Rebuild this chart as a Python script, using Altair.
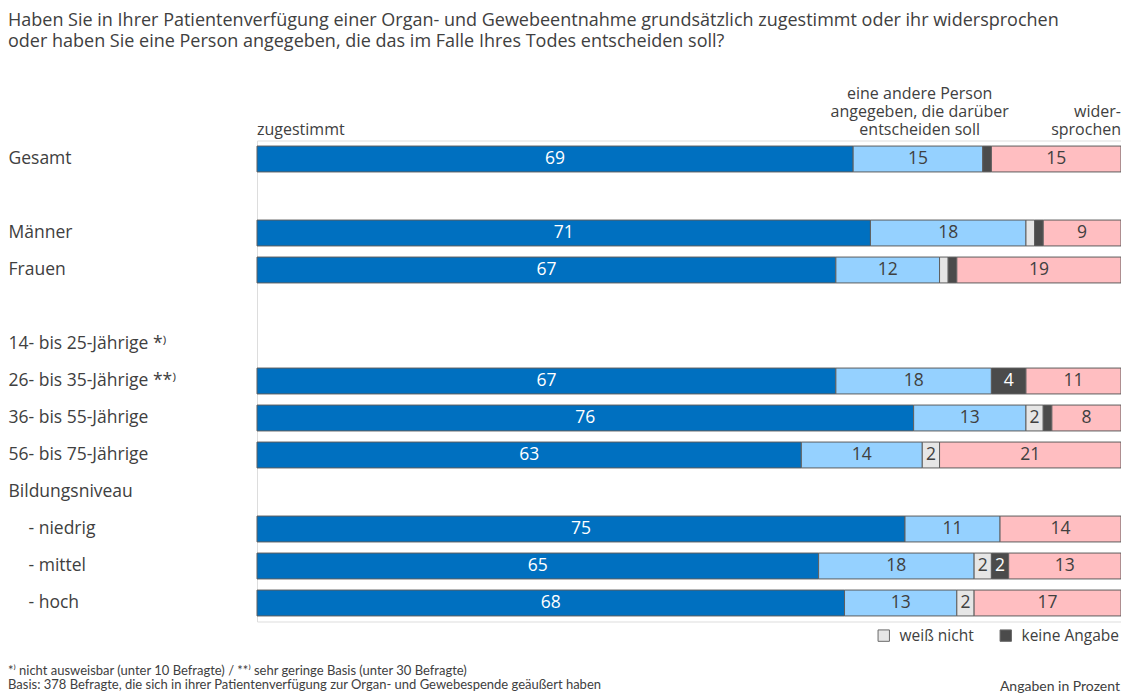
import altair as alt
import pandas as pd

# ---------------- data ----------------
categories = ["Gesamt", "_leer1", "Männer", "Frauen", "_leer2",
              "14- bis 25-Jährige *⁾", "26- bis 35-Jährige **⁾",
              "36- bis 55-Jährige", "56- bis 75-Jährige", "Bildungsniveau",
              "- niedrig", "- mittel", "- hoch"]
series = ["zugestimmt", "eine andere Person angegeben", "weiß nicht",
          "keine Angabe", "widersprochen"]
zugestimmt = [69, None, 71, 67, None, None, 67, 76, 63, None, 75, 65, 68]
andere = [15, None, 18, 12, None, None, 18, 13, 14, None, 11, 18, 13]
weiss_nicht = [0, None, 1, 1, None, None, 0, 2, 2, None, 0, 2, 2]
keine_angabe = [1, None, 1, 1, None, None, 4, 1, 0, None, 0, 2, 0]
widersprochen = [15, None, 9, 19, None, None, 11, 8, 21, None, 14, 13, 17]
colors = ["#0070C0", "#95D1FF", "#E6E6E6", "#4B4B4B", "#FFBEC1"]

title_lines = ["Haben Sie in Ihrer Patientenverfügung einer Organ- und Gewebeentnahme grundsätzlich zugestimmt oder ihr widersprochen",
               "oder haben Sie eine Person angegeben, die das im Falle Ihres Todes entscheiden soll?"]
footnotes = ["*⁾ nicht ausweisbar (unter 10 Befragte) / **⁾ sehr geringe Basis (unter 30 Befragte)",
             "Basis: 378 Befragte, die sich in ihrer Patientenverfügung zur Organ- und Gewebespende geäußert haben"]
unit_note = "Angaben in Prozent"
header_texts = [["zugestimmt"], ["eine andere Person", "angegeben, die darüber", "entscheiden soll"],
                ["wider-", "sprochen"]]
header_pos = [0, 76.7, 100]
header_align = ["left", "center", "right"]

# ------------- table -------------
rows = []
for i, cat in enumerate(categories):
    for k, vals in enumerate([zugestimmt, andere, weiss_nicht, keine_angabe, widersprochen]):
        v = vals[i]
        if v is not None and v > 0:
            rows.append({"cat": cat, "serie": series[k], "ord": k, "value": v})
df = pd.DataFrame(rows)

FONT = "Open Sans"
TXT = "#404040"
W, H = 864, 481
PAD_L, PAD_T = 249, 132.5
TOTAL_H = 686
PLOT_TOP = 8 + PAD_T  # page y of plot top


def py(page_y):
    """page y -> y relative to plot top"""
    return page_y - PLOT_TOP


xscale = alt.Scale(domain=[0, 100], nice=False, zero=True)
yscale = alt.Scale(domain=categories, paddingInner=0.3, paddingOuter=0.15)
ylab = alt.Y("cat:N", scale=yscale, title=None,
             axis=alt.Axis(labelAlign="left",
                           labelPadding={"condition": {"test": "indexof(datum.value, '- ') == 0",
                                                       "value": PAD_L - 20},
                                         "value": PAD_L},
                           ticks=False, domain=False, labelFontSize=17.5, labelFont=FONT,
                           labelColor=TXT, labelLimit=0,
                           labelExpr="indexof(datum.value, '_leer') == 0 ? '' : datum.value"))

base = alt.Chart(df).transform_stack(
    stack="value", groupby=["cat"], as_=["x0", "x1"],
    sort=[alt.SortField("ord", order="ascending")]
)

bars = base.mark_bar(stroke="#5E5E5E", strokeWidth=1).encode(
    x=alt.X("x0:Q", scale=xscale, axis=None, title=None),
    x2="x1:Q",
    y=ylab,
    color=alt.Color("serie:N", scale=alt.Scale(domain=series, range=colors),
                    legend=alt.Legend(values=["weiß nicht", "keine Angabe"], title=None,
                                      orient="none", legendX=619, legendY=487,
                                      direction="horizontal", symbolType="square",
                                      symbolSize=130, symbolStrokeColor="#6A6A6A",
                                      symbolStrokeWidth=1, symbolOpacity=1,
                                      labelFontSize=15.5, labelFont=FONT, labelColor=TXT,
                                      labelOffset=8, columnPadding=24, labelLimit=0)),
)

labels = base.transform_filter("datum.value >= 2").transform_calculate(
    mid="(datum.x0 + datum.x1) / 2",
    white="datum.serie == 'zugestimmt' || datum.serie == 'keine Angabe' ? 1 : 0",
).mark_text(fontSize=17.5, font=FONT, baseline="middle", align="center").encode(
    x=alt.X("mid:Q", scale=xscale, axis=None),
    y=alt.Y("cat:N", scale=yscale, axis=None),
    text=alt.Text("value:Q"),
    color=alt.condition("datum.white == 1", alt.value("white"), alt.value(TXT)),
)

layers = [bars, labels]

# column headers above the bars (one text per line, bottom lines aligned)
line_y = [130, 112, 94]  # page y of last, second-last, third-last line
for txt, pos, al in zip(header_texts, header_pos, header_align):
    n = len(txt)
    for j, line in enumerate(txt):
        yy = line_y[n - 1 - j]
        layers.append(
            alt.Chart(pd.DataFrame([{"t": line, "xpos": pos}])).mark_text(
                fontSize=16, font=FONT, color=TXT, baseline="middle", align=al).encode(
                x=alt.X("xpos:Q", scale=xscale, axis=None), y=alt.value(py(yy)), text="t")
        )

# title lines
for line, yy in zip(title_lines, [20.5, 42]):
    layers.append(alt.Chart(pd.DataFrame({"t": [line]})).mark_text(
        fontSize=18, font=FONT, color=TXT, align="left", baseline="middle").encode(
        x=alt.value(-PAD_L), y=alt.value(py(yy)), text="t"))

# footnotes
for line, yy in zip(footnotes, [671, 685]):
    layers.append(alt.Chart(pd.DataFrame({"t": [line]})).mark_text(
        fontSize=13, font="Lato", color=TXT, align="left", baseline="middle").encode(
        x=alt.value(-PAD_L), y=alt.value(py(yy)), text="t"))

layers.append(alt.Chart(pd.DataFrame({"t": [unit_note]})).mark_text(
    fontSize=14, font="Lato", color=TXT, align="right", baseline="middle").encode(
    x=alt.value(W - 1), y=alt.value(py(687)), text="t"))

chart = alt.layer(*layers).resolve_scale(
    y="independent"
).properties(
    width=W, height=H, autosize="none",
    padding={"left": PAD_L, "top": PAD_T, "right": 0, "bottom": TOTAL_H - PAD_T - H},
).configure_view(stroke=None).configure(background="white")

chart.save("out.html", embed_options={"renderer": "svg", "actions": False})
